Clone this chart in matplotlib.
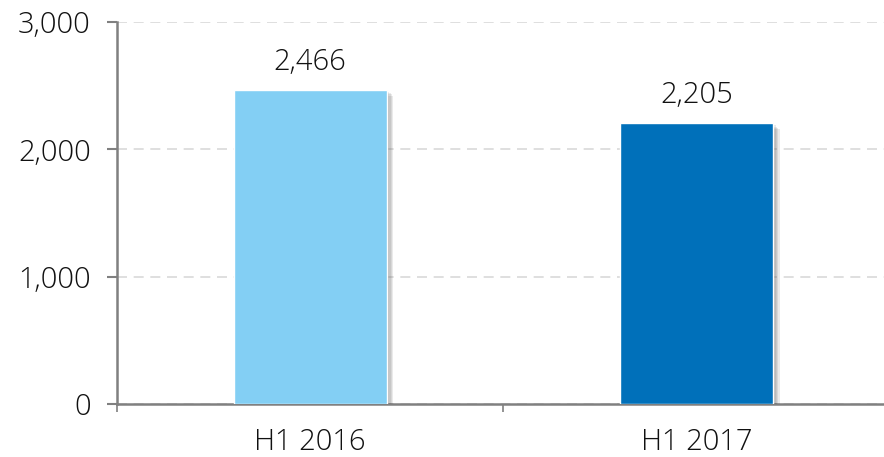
import matplotlib.pyplot as plt
import matplotlib.patheffects as pe
from matplotlib.ticker import FuncFormatter

categories = ['H1 2016', 'H1 2017']
values = [2466, 2205]
colors = ['#83CFF4', '#0070BA']
labels = ['2,466', '2,205']

plt.rcParams['font.family'] = ['Open Sans', 'DejaVu Sans']
plt.rcParams['font.weight'] = 'light'

fig = plt.figure(figsize=(8.84, 4.57), dpi=100)
ax = fig.add_axes([0.1324, 0.116, 0.8676, 0.8359])

# soft shadow: several stacked offsets
shadow = [pe.SimplePatchShadow(offset=(d, -d * 0.8), shadow_rgbFace='#555555', alpha=0.12)
          for d in (1, 2, 3, 4, 5)] + [pe.Normal()]
x = list(range(len(categories)))
bars = ax.bar(x, values, width=0.395, color=colors, edgecolor='white', linewidth=1, zorder=3)
for b in bars:
    b.set_path_effects(shadow)

for xi, v, lab in zip(x, values, labels):
    ax.text(xi, v + 160, lab, ha='center', va='baseline', fontsize=21, color='#111111')

ax.set_xlim(-0.5, 1.485)
ax.set_ylim(0, 3000)
ax.set_yticks([0, 1000, 2000, 3000])
ax.yaxis.set_major_formatter(FuncFormatter(lambda v, p: f'{int(v):,}'))
ax.set_xticks(x)
ax.set_xticklabels(categories)
ax.set_xticks([-0.5, 0.5], minor=True)
ax.tick_params(axis='x', which='major', length=0, pad=17, labelsize=21, labelcolor='#111111')
ax.tick_params(axis='x', which='minor', length=6, width=1.2, color='#808080')
ax.tick_params(axis='y', length=7, width=1.5, color='#808080', labelsize=21, pad=12,
               labelcolor='#111111')

ax.grid(axis='y', color='#d9d9d9', linestyle=(0, (6, 4)), linewidth=1.2, zorder=0)
for s in ['top', 'right']:
    ax.spines[s].set_visible(False)
for s in ['left', 'bottom']:
    ax.spines[s].set_color('#808080')
    ax.spines[s].set_linewidth(1.8)

fig.savefig('out.png', dpi=100)
